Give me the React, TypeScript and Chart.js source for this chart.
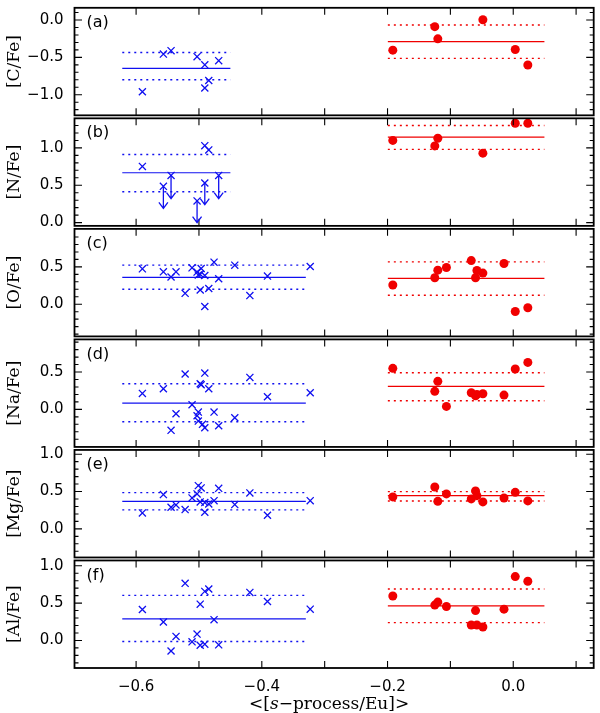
import React, { useEffect, useRef } from 'react';
import { Chart, registerables } from 'chart.js';

Chart.register(...registerables);

// ---------- axes ----------
const xMin = -0.698;
const xMax = 0.128;
const xTickValues = [-0.6, -0.4, -0.2, 0.0];
const xTitleParts: [string, boolean][] = [['<[', false], ['s', true], ['\u2212process/Eu]>', false]];

const panelKeys = ['yA', 'yB', 'yC', 'yD', 'yE', 'yF'];
const panelTags = ['(a)', '(b)', '(c)', '(d)', '(e)', '(f)'];
const panelTitles = ['[C/Fe]', '[N/Fe]', '[O/Fe]', '[Na/Fe]', '[Mg/Fe]', '[Al/Fe]'];
const panelMin = [-1.296, -0.064, -0.451, -0.523, -0.403, -0.389];
const panelMax = [0.184, 1.416, 1.029, 0.957, 1.077, 1.091];
const panelTickValues = [
  [-1.0, -0.5, 0.0],
  [0.0, 0.5, 1.0],
  [0.0, 0.5],
  [0.0, 0.5],
  [0.0, 0.5, 1.0],
  [0.0, 0.5, 1.0],
];

// ---------- data: [<s-process/Eu>, [X/Fe]] ----------
const cfeBlue = [
  [-0.590, -0.96], [-0.5566, -0.456], [-0.5444, -0.41], [-0.503, -0.49],
  [-0.4907, -0.60], [-0.4907, -0.91], [-0.4844, -0.81], [-0.4686, -0.544],
];
const cfeRed = [
  [-0.1916, -0.403], [-0.1248, -0.089], [-0.120, -0.252], [-0.0483, 0.004],
  [0.0032, -0.394], [0.0232, -0.602],
];

const nfeBlue = [
  [-0.590, 0.752], [-0.5566, 0.485], [-0.5444, 0.632], [-0.503, 0.29],
  [-0.4907, 1.03], [-0.4907, 0.53], [-0.4844, 0.973], [-0.4686, 0.632],
];
// upper limits: [x, value, arrow tip]
const nfeUpperLimits = [
  [-0.5566, 0.485, 0.19], [-0.5444, 0.632, 0.32], [-0.503, 0.29, 0.0],
  [-0.4907, 0.53, 0.24], [-0.4686, 0.632, 0.32],
];
const nfeRed = [
  [-0.1916, 1.10], [-0.1248, 1.027], [-0.120, 1.13], [-0.0483, 0.93],
  [0.0032, 1.33], [0.0232, 1.33],
];

const ofeBlue = [
  [-0.590, 0.474], [-0.5566, 0.434], [-0.5444, 0.364], [-0.5365, 0.434],
  [-0.522, 0.146], [-0.511, 0.487], [-0.503, 0.43], [-0.501, 0.39],
  [-0.498, 0.40], [-0.4965, 0.478], [-0.498, 0.19], [-0.4907, 0.385],
  [-0.4907, -0.03], [-0.4844, 0.21], [-0.476, 0.563], [-0.4686, 0.341],
  [-0.443, 0.523], [-0.419, 0.116], [-0.391, 0.377], [-0.323, 0.505],
];
const ofeRed = [
  [-0.1916, 0.257], [-0.1248, 0.354], [-0.120, 0.456], [-0.1063, 0.491],
  [-0.0668, 0.584], [-0.060, 0.354], [-0.0578, 0.452], [-0.0483, 0.417],
  [-0.0147, 0.545], [0.0032, -0.097], [0.0232, -0.048],
];

const nafeBlue = [
  [-0.590, 0.214], [-0.5566, 0.276], [-0.5444, -0.281], [-0.5365, -0.059],
  [-0.522, 0.473], [-0.511, 0.062], [-0.503, -0.085], [-0.501, -0.036],
  [-0.498, 0.343], [-0.4965, 0.33], [-0.501, -0.157], [-0.4944, -0.2],
  [-0.4907, 0.486], [-0.4907, -0.246], [-0.4844, 0.276], [-0.476, -0.036],
  [-0.4686, -0.219], [-0.443, -0.112], [-0.419, 0.428], [-0.391, 0.169],
  [-0.323, 0.222],
];
const nafeRed = [
  [-0.1916, 0.549], [-0.1248, 0.241], [-0.120, 0.375], [-0.1063, 0.04],
  [-0.0668, 0.222], [-0.060, 0.182], [-0.0578, 0.20], [-0.0483, 0.209],
  [-0.0147, 0.191], [0.0032, 0.54], [0.0232, 0.629],
];

const mgfeBlue = [
  [-0.590, 0.214], [-0.5566, 0.459], [-0.5444, 0.289], [-0.5365, 0.321],
  [-0.522, 0.258], [-0.511, 0.414], [-0.503, 0.468], [-0.501, 0.579],
  [-0.4965, 0.548], [-0.498, 0.361], [-0.4907, 0.222], [-0.4907, 0.352],
  [-0.4844, 0.334], [-0.476, 0.378], [-0.4686, 0.543], [-0.443, 0.325],
  [-0.419, 0.481], [-0.391, 0.182], [-0.323, 0.378],
];
const mgfeRed = [
  [-0.1916, 0.428], [-0.1248, 0.561], [-0.120, 0.369], [-0.1063, 0.468],
  [-0.0668, 0.401], [-0.060, 0.508], [-0.0578, 0.445], [-0.0483, 0.361],
  [-0.0147, 0.414], [0.0032, 0.489], [0.0232, 0.374],
];

const alfeBlue = [
  [-0.590, 0.414], [-0.5566, 0.247], [-0.5444, -0.141], [-0.5365, 0.054],
  [-0.522, 0.765], [-0.511, -0.019], [-0.503, 0.085], [-0.498, 0.486],
  [-0.498, -0.064], [-0.4907, -0.05], [-0.4907, 0.657], [-0.4844, 0.689],
  [-0.476, 0.278], [-0.4686, -0.059], [-0.419, 0.643], [-0.391, 0.522],
  [-0.323, 0.419],
];
const alfeRed = [
  [-0.1916, 0.595], [-0.1248, 0.473], [-0.120, 0.514], [-0.1063, 0.454],
  [-0.0668, 0.207], [-0.060, 0.40], [-0.0578, 0.207], [-0.0483, 0.18],
  [-0.0147, 0.419], [0.0032, 0.855], [0.0232, 0.792],
];

// mean and dispersion lines, one entry per panel (a..f)
const blueMean = [-0.646, 0.667, 0.359, 0.084, 0.369, 0.288];
const blueUpper = [-0.434, 0.912, 0.523, 0.343, 0.485, 0.603];
const blueLower = [-0.80, 0.413, 0.20, -0.166, 0.254, -0.014];
const blueLineFrom = [-0.622, -0.622, -0.622, -0.622, -0.622, -0.622];
const blueLineTo = [-0.450, -0.450, -0.330, -0.330, -0.330, -0.330];

const redMean = [-0.288, 1.143, 0.345, 0.308, 0.445, 0.464];
const redUpper = [-0.066, 1.30, 0.567, 0.49, 0.499, 0.689];
const redLower = [-0.513, 0.98, 0.12, 0.115, 0.374, 0.238];
const redLineFrom = [-0.1995, -0.1995, -0.1995, -0.1995, -0.1995, -0.1995];
const redLineTo = [0.0496, 0.0496, 0.0496, 0.0496, 0.0496, 0.0496];

const blueSets = [cfeBlue, nfeBlue, ofeBlue, nafeBlue, mgfeBlue, alfeBlue];
const redSets = [cfeRed, nfeRed, ofeRed, nafeRed, mgfeRed, alfeRed];

const BLUE = '#1010f0';
const RED = '#f00000';
const TICK_FONT = 'DejaVu Sans';
const TITLE_FONT = 'DejaVu Serif';

const fmt = (v: number) => {
  const a = Math.abs(v).toFixed(1);
  return v < -1e-9 ? '\u2212' + a : a;
};

const framePlugin = {
  id: 'framePlugin',
  afterDatasetsDraw(chart: any) {
    const { ctx, chartArea } = chart;
    const xs = chart.scales.x;
    const left = chartArea.left;
    const right = chartArea.right;
    ctx.save();
    panelKeys.forEach((key, i) => {
      const s = chart.scales[key];
      const top = s.top + 1.5;
      const bottom = s.bottom - 1.5;
      // frame
      ctx.strokeStyle = '#000';
      ctx.lineWidth = 1.8;
      ctx.strokeRect(left, top, right - left, bottom - top);
      // y ticks (inward)
      ctx.lineWidth = 1.1;
      const vTop = s.getValueForPixel(top);
      const vBot = s.getValueForPixel(bottom);
      ctx.beginPath();
      for (let k = Math.ceil(vBot * 10 - 1e-6); k <= Math.floor(vTop * 10 + 1e-6); k++) {
        const py = s.getPixelForValue(k / 10);
        if (py < top + 1 || py > bottom - 1) continue;
        const len = k % 5 === 0 ? 7.5 : 4;
        ctx.moveTo(left, py);
        ctx.lineTo(left + len, py);
        ctx.moveTo(right, py);
        ctx.lineTo(right - len, py);
      }
      // x ticks (inward) top and bottom
      for (let k = Math.ceil(xMin * 10); k <= Math.floor(xMax * 10); k++) {
        const px = xs.getPixelForValue(k / 10);
        if (px < left + 1 || px > right - 1) continue;
        ctx.moveTo(px, top);
        ctx.lineTo(px, top + 7);
        ctx.moveTo(px, bottom);
        ctx.lineTo(px, bottom - 7);
      }
      ctx.stroke();
      // panel tag
      ctx.fillStyle = '#000';
      ctx.font = '16px "' + TICK_FONT + '"';
      ctx.textAlign = 'left';
      ctx.textBaseline = 'middle';
      ctx.fillText(panelTags[i], left + 12, top + 15);
    });

    // upper-limit arrows in panel (b)
    const yb = chart.scales.yB;
    ctx.strokeStyle = BLUE;
    ctx.lineWidth = 1.3;
    ctx.beginPath();
    nfeUpperLimits.forEach(([x, y, tip]) => {
      const px = xs.getPixelForValue(x);
      const py = yb.getPixelForValue(y);
      const pt = yb.getPixelForValue(tip);
      ctx.moveTo(px, py);
      ctx.lineTo(px, pt);
      ctx.moveTo(px - 4.5, pt - 6);
      ctx.lineTo(px, pt);
      ctx.lineTo(px + 4.5, pt - 6);
    });
    ctx.stroke();

    // x-axis title with italic s
    ctx.fillStyle = '#000';
    ctx.textBaseline = 'middle';
    ctx.textAlign = 'left';
    const fontFor = (it: boolean) => (it ? 'italic ' : '') + '17px "' + TITLE_FONT + '"';
    let total = 0;
    xTitleParts.forEach(([t, it]) => {
      ctx.font = fontFor(it);
      total += ctx.measureText(t).width;
    });
    let cx = (left + right) / 2 - 5 - total / 2;
    xTitleParts.forEach(([t, it]) => {
      ctx.font = fontFor(it);
      ctx.fillText(t, cx, 705);
      cx += ctx.measureText(t).width;
    });
    ctx.restore();
  },
};

export default function App() {
  const ref = useRef<HTMLCanvasElement>(null);

  useEffect(() => {
    document.body.style.margin = '0';
    const canvas = ref.current;
    if (!canvas) return;

    const datasets: any[] = [];
    const hline = (key: string, from: number, to: number, y: number, color: string, dotted: boolean) => ({
      type: 'scatter',
      xAxisID: 'x',
      yAxisID: key,
      data: [{ x: from, y }, { x: to, y }],
      showLine: true,
      pointRadius: 0,
      borderColor: color,
      backgroundColor: color,
      borderWidth: dotted ? 1.4 : 1.2,
      borderDash: dotted ? [2, 4] : [],
      borderCapStyle: 'butt',
      fill: false,
      order: 2,
    });

    panelKeys.forEach((key, i) => {
      datasets.push(hline(key, blueLineFrom[i], blueLineTo[i], blueMean[i], BLUE, false));
      datasets.push(hline(key, blueLineFrom[i], blueLineTo[i], blueUpper[i], BLUE, true));
      datasets.push(hline(key, blueLineFrom[i], blueLineTo[i], blueLower[i], BLUE, true));
      datasets.push(hline(key, redLineFrom[i], redLineTo[i], redMean[i], RED, false));
      datasets.push(hline(key, redLineFrom[i], redLineTo[i], redUpper[i], RED, true));
      datasets.push(hline(key, redLineFrom[i], redLineTo[i], redLower[i], RED, true));
      datasets.push({
        xAxisID: 'x',
        yAxisID: key,
        data: blueSets[i].map(([x, y]) => ({ x, y })),
        pointStyle: 'crossRot',
        pointRadius: 5,
        borderColor: BLUE,
        backgroundColor: 'rgba(0,0,0,0)',
        pointBorderWidth: 1.3,
        showLine: false,
        order: 1,
      });
      datasets.push({
        xAxisID: 'x',
        yAxisID: key,
        data: redSets[i].map(([x, y]) => ({ x, y })),
        pointStyle: 'circle',
        pointRadius: 4.5,
        borderColor: RED,
        backgroundColor: RED,
        pointBorderWidth: 0,
        showLine: false,
        order: 1,
      });
    });

    const scales: any = {
      x: {
        type: 'linear',
        position: 'bottom',
        min: xMin,
        max: xMax,
        afterBuildTicks: (s: any) => {
          s.ticks = xTickValues.map((v) => ({ value: v }));
        },
        afterFit: (s: any) => {
          s.height = 43.5;
          s.paddingLeft = 0;
          s.paddingRight = 0;
          s.paddingTop = 0;
          s.paddingBottom = 0;
        },
        grid: { display: false, drawTicks: false },
        border: { display: false },
        ticks: {
          autoSkip: false,
          maxRotation: 0,
          minRotation: 0,
          padding: 9,
          color: '#000',
          font: { family: TICK_FONT, size: 15 },
          callback: (v: any) => fmt(Number(v)),
        },
      },
    };
    panelKeys.forEach((key, i) => {
      scales[key] = {
        type: 'linear',
        position: 'left',
        stack: 'panels',
        stackWeight: 1,
        weight: 10 - i,
        min: panelMin[i],
        max: panelMax[i],
        afterBuildTicks: (s: any) => {
          s.ticks = panelTickValues[i].map((v) => ({ value: v }));
        },
        afterFit: (s: any) => {
          s.width = 74.5;
          s.paddingLeft = 0;
          s.paddingRight = 0;
          s.paddingTop = 0;
          s.paddingBottom = 0;
        },
        grid: { display: false, drawTicks: false },
        border: { display: false },
        ticks: {
          autoSkip: false,
          padding: 11,
          color: '#000',
          font: { family: TICK_FONT, size: 15 },
          callback: (v: any) => fmt(Number(v)),
        },
        title: {
          display: true,
          text: panelTitles[i],
          color: '#000',
          font: { family: TITLE_FONT, size: 17 },
          padding: { top: 4, bottom: 0 },
        },
      };
    });

    const chart = new Chart(canvas, {
      type: 'scatter',
      data: { datasets },
      options: {
        responsive: false,
        animation: false,
        events: [],
        layout: { padding: { left: 0, right: 2.5, top: 1.5, bottom: 0 } },
        plugins: { legend: { display: false }, tooltip: { enabled: false } },
        scales,
      } as any,
      plugins: [framePlugin],
    });
    return () => chart.destroy();
  }, []);

  return (
    <div style={{ width: 600, height: 713, background: '#fff' }}>
      <canvas ref={ref} width={600} height={713} style={{ display: 'block', width: 600, height: 713 }} />
    </div>
  );
}
